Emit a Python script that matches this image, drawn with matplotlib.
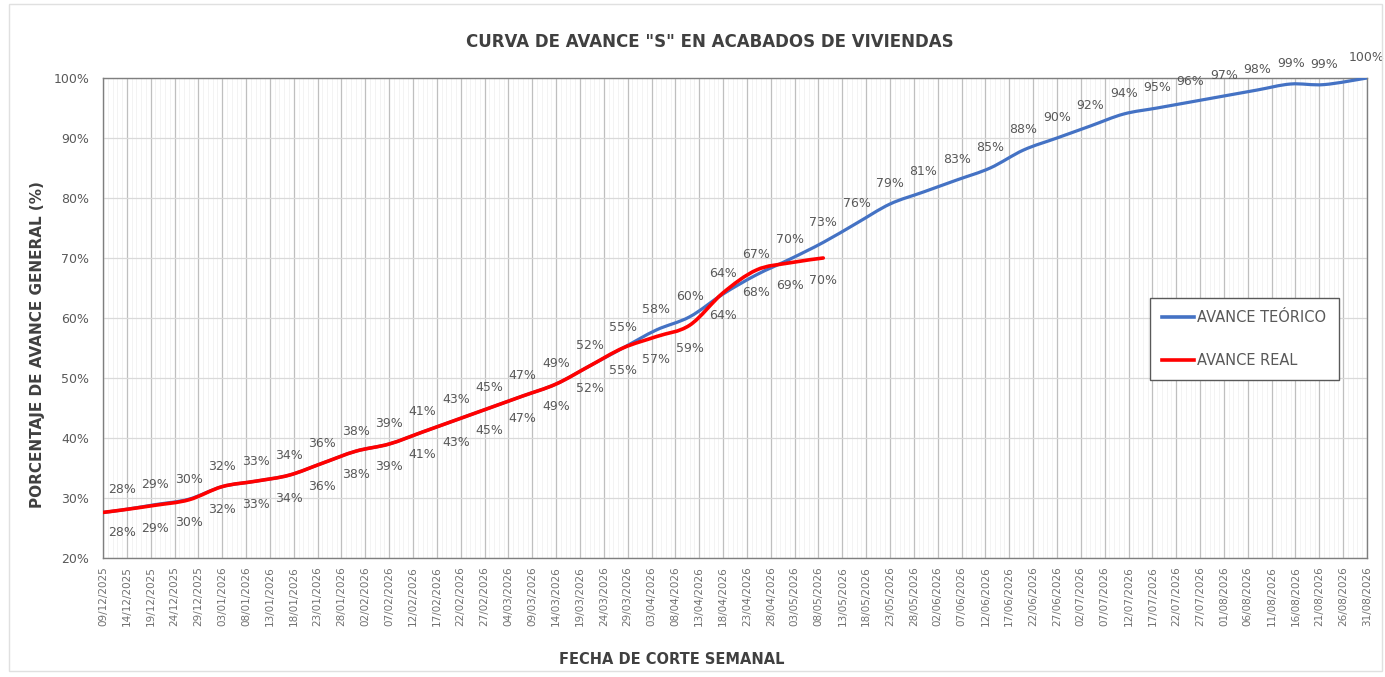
import matplotlib
matplotlib.use("Agg")
import matplotlib.pyplot as plt
import matplotlib.dates as mdates
from matplotlib.path import Path
from matplotlib.patches import PathPatch, Rectangle
from matplotlib.lines import Line2D
import numpy as np
import pandas as pd

# ---------------- data ----------------
title = 'CURVA DE AVANCE "S" EN ACABADOS DE VIVIENDAS'
ylabel = "PORCENTAJE DE AVANCE GENERAL (%)"
xlabel = "FECHA DE CORTE SEMANAL"
series_names = ["AVANCE TEÓRICO", "AVANCE REAL"]

start_date = "09/12/2025"
start_value = 27.6

dates_theo = ["13/12/2025", "20/12/2025", "27/12/2025", "03/01/2026", "10/01/2026",
              "17/01/2026", "24/01/2026", "31/01/2026", "07/02/2026", "14/02/2026",
              "21/02/2026", "28/02/2026", "07/03/2026", "14/03/2026", "21/03/2026",
              "28/03/2026", "04/04/2026", "11/04/2026", "18/04/2026", "25/04/2026",
              "02/05/2026", "09/05/2026", "16/05/2026", "23/05/2026", "30/05/2026",
              "06/06/2026", "13/06/2026", "20/06/2026", "27/06/2026", "04/07/2026",
              "11/07/2026", "18/07/2026", "25/07/2026", "01/08/2026", "08/08/2026",
              "15/08/2026", "22/08/2026", "31/08/2026"]
avance_teorico = [28.0, 28.9, 29.8, 31.9, 32.8, 33.8, 35.8, 37.8, 39.0, 41.0,
                  43.0, 45.0, 47.0, 49.0, 52.0, 55.0, 58.0, 60.2, 64.0, 67.2,
                  69.8, 72.6, 75.8, 79.0, 81.0, 83.0, 85.0, 88.0, 90.0, 92.0,
                  94.0, 95.0, 96.0, 97.0, 98.0, 99.0, 98.9, 100.0]

dates_real = dates_theo[:22]
avance_real = [28.0, 28.8, 29.7, 31.9, 32.8, 33.8, 35.8, 37.8, 39.0, 41.0,
               43.0, 45.0, 47.0, 49.0, 52.0, 55.0, 56.9, 58.8, 64.2, 68.0,
               69.2, 70.0]

axis_start = "09/12/2025"
axis_end = "31/08/2026"
y_min, y_max, y_step = 20, 100, 10

# ---------------- helpers ----------------
def to_num(lst):
    return mdates.date2num(pd.to_datetime(lst, format="%d/%m/%Y"))

def smooth_path(x, y):
    pts = np.column_stack([x, y])
    n = len(pts)
    verts = [pts[0]]
    codes = [Path.MOVETO]
    for i in range(n - 1):
        p0 = pts[i - 1] if i > 0 else pts[i]
        p1 = pts[i]
        p2 = pts[i + 1]
        p3 = pts[i + 2] if i + 2 < n else pts[i + 1]
        c1 = p1 + (p2 - p0) / 6.0
        c2 = p2 - (p3 - p1) / 6.0
        verts += [c1, c2, p2]
        codes += [Path.CURVE4] * 3
    return Path(verts, codes)

# ---------------- figure ----------------
plt.rcParams["font.family"] = ["DejaVu Sans"]
fig = plt.figure(figsize=(13.85, 6.77), dpi=100)
ax = fig.add_axes([103 / 1385, 1 - 558 / 677, (1367 - 103) / 1385, (558 - 78) / 677])

txt = "#595959"

x0 = to_num([start_date])[0]
xt = np.concatenate([[x0], to_num(dates_theo)])
yt = np.concatenate([[start_value], avance_teorico])
xr = np.concatenate([[x0], to_num(dates_real)])
yr = np.concatenate([[start_value], avance_real])

blue = "#4472C4"
red = "#FF0000"
ax.add_patch(PathPatch(smooth_path(xt, yt), fill=False, edgecolor=blue, lw=2.3,
                       capstyle="round", joinstyle="round", zorder=4))
ax.add_patch(PathPatch(smooth_path(xr, yr), fill=False, edgecolor=red, lw=2.6,
                       capstyle="round", joinstyle="round", zorder=5))

# data labels
for d, v in zip(to_num(dates_theo), avance_teorico):
    ax.annotate(f"{round(v)}%", (d, v), xytext=(0, 14.5), textcoords="offset points",
                ha="center", va="center", fontsize=9, color=txt, zorder=6,
                annotation_clip=False)
for d, v in zip(to_num(dates_real), avance_real):
    ax.annotate(f"{round(v)}%", (d, v), xytext=(0, -16.5), textcoords="offset points",
                ha="center", va="center", fontsize=9, color=txt, zorder=6,
                annotation_clip=False)

# axes
xa, xb = to_num([axis_start, axis_end])
ax.set_xlim(xa, xb)
ax.set_ylim(y_min, y_max)
ticks = pd.date_range(pd.to_datetime(axis_start, format="%d/%m/%Y"),
                      pd.to_datetime(axis_end, format="%d/%m/%Y"), freq="5D")
ax.set_xticks(mdates.date2num(ticks))
ax.set_xticklabels([t.strftime("%d/%m/%Y") for t in ticks], rotation=90,
                   fontsize=7.5, color="#6f6f6f")
ax.xaxis.set_minor_locator(mdates.DayLocator())
ax.set_yticks(np.arange(y_min, y_max + 1, y_step))
ax.set_yticklabels([f"{v}%" for v in range(y_min, y_max + 1, y_step)],
                   fontsize=9, color=txt)
ax.tick_params(axis="both", which="both", length=0)
ax.tick_params(axis="x", pad=6)
ax.tick_params(axis="y", pad=10)

ax.grid(True, which="major", axis="x", color="#bfbfbf", lw=0.9, zorder=1)
ax.grid(True, which="minor", axis="x", color="#eeeeee", lw=0.5, zorder=0)
ax.grid(True, which="major", axis="y", color="#d9d9d9", lw=0.9, zorder=1)
ax.set_axisbelow(True)
for s in ax.spines.values():
    s.set_color("#7f7f7f")
    s.set_linewidth(1.0)

fig.text(710 / 1385, 1 - 42 / 677, title, ha="center", va="center", fontsize=12,
         fontweight="bold", color="#404040")
fig.text(38 / 1385, 1 - 345 / 677, ylabel, rotation=90, ha="center", va="center",
         fontsize=11, fontweight="bold", color="#404040")
fig.text(672 / 1385, 1 - 660 / 677, xlabel, ha="center", va="center",
         fontsize=10.5, fontweight="bold", color="#404040")

handles = [Line2D([], [], color=blue, lw=2.6), Line2D([], [], color=red, lw=2.6)]
leg = fig.legend(handles, series_names, loc="upper left",
                 bbox_to_anchor=(1150 / 1385, 1 - 298 / 677),
                 bbox_transform=fig.transFigure, fontsize=10.5, frameon=True,
                 fancybox=False, framealpha=1, edgecolor="#595959",
                 handlelength=2.2, handletextpad=0.2, labelspacing=1.9,
                 borderpad=0.85, borderaxespad=0)
for t in leg.get_texts():
    t.set_color(txt)
leg.get_frame().set_linewidth(1.0)

fig.patches.append(Rectangle((9 / 1385, 6 / 677), 1 - 12 / 1385, 1 - 10 / 677,
                             transform=fig.transFigure, fill=False,
                             edgecolor="#e0e0e0", lw=1.0))

fig.savefig("out.png", dpi=100)
